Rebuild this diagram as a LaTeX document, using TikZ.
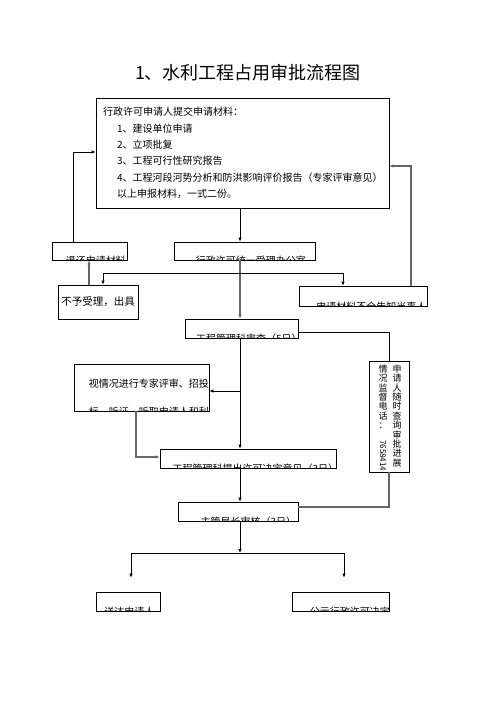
\documentclass[tikz,border=0pt]{standalone}
\usepackage{fontspec}
\usepackage{graphicx}
\newfontfamily\cjk{Noto Sans CJK SC}
\usetikzlibrary{arrows.meta}

\begin{document}
\begin{tikzpicture}[x=1pt, y=-1pt,
    >={Latex[length=4pt,width=3.5pt]},
    line/.style={draw, line width=0.8pt},
    gline/.style={draw, line width=1.5pt, black!60},
    txt/.style={font=\cjk\fontsize{10}{12}\selectfont, inner sep=0pt, anchor=base west},
    cutbox/.style n args={2}{draw, line width=0.8pt, inner sep=0pt,
        path picture={\node[txt] at ([xshift=#2pt,yshift=-4.5pt]path picture bounding box.south west) {#1};}},
    vtxt/.style={font=\cjk\fontsize{9}{9.4}\selectfont, align=center, inner sep=0pt, anchor=north}]

    \useasboundingbox (0,0) rectangle (496,702);

    % Nodes
    \node (title) at (248,73) {\cjk\fontsize{18}{18}\selectfont 1、水利工程占用审批流程图};
    \node (cailiao) [draw, line width=0.8pt, text width=279pt, inner xsep=7pt, minimum height=110pt,
                     align=left, font=\cjk\fontsize{10}{16.4}\selectfont] at (242.5,153)
          {行政许可申请人提交申请材料：\\
           \hspace*{14pt}1、建设单位申请\\
           \hspace*{14pt}2、立项批复\\
           \hspace*{14pt}3、工程可行性研究报告\\
           \hspace*{14pt}4、工程河段河势分析和防洪影响评价报告（专家评审意见）\\
           \hspace*{14pt}以上申报材料，一式二份。};
    \node (tuihuan) [cutbox={退还申请材料}{6}, minimum width=75pt, minimum height=18pt] at (89.5,251) {};
    \node (shouli) [cutbox={行政许可统一受理办公室}{6}, minimum width=141pt, minimum height=18pt] at (244.5,251) {};
    \node (bushou) [draw, line width=0.8pt, minimum width=78pt, minimum height=34pt,
                    font=\cjk\fontsize{10.5}{12}\selectfont] at (98,302) {不予受理，出具};
    \node (buquan) [cutbox={申请材料不全告知当事人}{8}, minimum width=128pt, minimum height=20pt] at (363,296) {};
    \node (shencha) [cutbox={工程管理科审查（5日）}{7}, minimum width=113pt, minimum height=19pt] at (241.5,328.5) {};
    \node (shiqing) [draw, line width=0.8pt, inner sep=0pt, minimum width=135pt, minimum height=47pt,
                     path picture={
                       \node[txt] at ([xshift=7pt,yshift=24pt]path picture bounding box.south west) {视情况进行专家评审、招投};
                       \node[txt] at ([xshift=7pt,yshift=-4pt]path picture bounding box.south west) {标、听证，听取申请人和利};
                     }] at (141.5,387.5) {};
    \node (jiandu) [draw, line width=0.8pt, inner sep=0pt, minimum width=40pt, minimum height=111pt] at (389,416.5) {};
    \node (jiandu1) [vtxt] at ([xshift=8pt,yshift=-4pt]jiandu.north)
          {申\\请\\人\\随\\时\\查\\询\\审\\批\\进\\展};
    \node (jiandu2) [vtxt] at ([xshift=-6pt,yshift=-4pt]jiandu.north)
          {情\\况\\监\\督\\电\\话\\：\\[2pt]\rotatebox{-90}{\fontsize{8}{8}\selectfont 7658414}};
    \node (jueding) [cutbox={工程管理科提出许可决定意见（3日）}{7}, minimum width=176pt, minimum height=19pt] at (248,458.5) {};
    \node (zhuguan) [cutbox={主管局长审核（3日）}{10}, minimum width=120pt, minimum height=19pt] at (238,511.5) {};
    \node (songda) [cutbox={送达申请人}{1}, minimum width=64pt, minimum height=19pt] at (128,601.5) {};
    \node (gongshi) [cutbox={公示行政许可决定}{9}, minimum width=97pt, minimum height=19pt] at (340.5,601.5) {};

    \coordinate (spine) at (240,0);
    \coordinate (fork1) at (240,273);
    \coordinate (fork2) at (240,391);
    \coordinate (fork3) at (240,553);

    % Arrows
    \draw[line,->] (cailiao.south -| spine) -- (shouli.north -| spine);
    \draw[gline,->] (shouli.south -| spine) -- (shencha.north -| spine);
    \draw[line,->] (fork1) -| ([xshift=5pt]bushou.north);
    \draw[line,->] (fork1) -| ([xshift=-20pt]buquan.north);
    \draw[gline,->] ([xshift=-9pt]bushou.north) -- ([xshift=-0.5pt]tuihuan.south);
    \draw[line,->] ([xshift=-16.5pt]tuihuan.north) |- ([yshift=1pt]cailiao.west);
    \draw[gline,->] ([xshift=48pt]buquan.north) |- ([yshift=-13pt]cailiao.east);
    \draw[line] ([yshift=-3.5pt]shencha.east) -| (jiandu.north);
    \draw[gline] (jiandu.south) |- ([yshift=4.5pt]zhuguan.east);
    \draw[line,->] (shencha.south -| spine) -- (jueding.north -| spine);
    \draw[line,->] (fork2) -- (fork2 -| shiqing.east);
    \draw[gline,->] ([xshift=-5.5pt]shiqing.south) |- ([yshift=1.5pt]jueding.west);
    \draw[line,->] (jueding.south -| spine) -- (zhuguan.north -| spine);
    \draw[line,->] (zhuguan.south -| spine) -- (fork3);
    \draw[line,->,shorten >=14pt] (fork3) -| ([xshift=3pt]songda.north);
    \draw[line,->,shorten >=14pt] (fork3) -| ([xshift=3.5pt]gongshi.north);

\end{tikzpicture}
\end{document}
